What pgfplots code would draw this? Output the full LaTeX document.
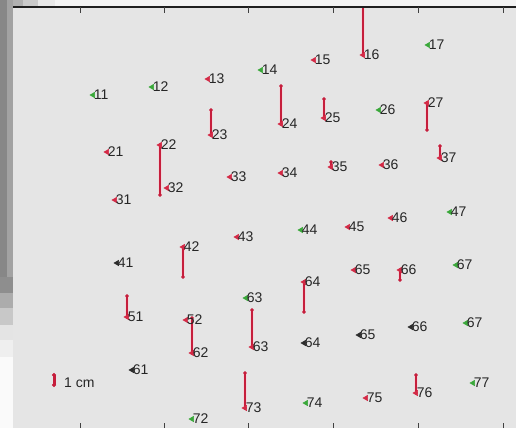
\documentclass[border=0pt]{standalone}
\usepackage{pgfplots}
\usepackage{pgfplotstable}
\pgfplotsset{compat=1.18}
\usepackage{fontspec}
\setmainfont{Liberation Sans}

\definecolor{plotbg}{HTML}{E5E5E5}
\definecolor{ptred}{HTML}{D42A46}
\definecolor{barred}{HTML}{C61E3C}
\definecolor{ptgreen}{HTML}{3AA83A}
\definecolor{ptdark}{HTML}{2C2C2C}
\definecolor{labelgray}{HTML}{262626}
\definecolor{gF3}{HTML}{F3F3F3}
\definecolor{gE8}{HTML}{E8E8E8}
\definecolor{gCA}{HTML}{CACACA}
\definecolor{gB0}{HTML}{B0B0B0}
\definecolor{gFA}{HTML}{FAFAFA}
\definecolor{gEF}{HTML}{EFEFEF}
\definecolor{gE4}{HTML}{E4E4E4}
\definecolor{gC8}{HTML}{C8C8C8}
\definecolor{gAC}{HTML}{ACACAC}
\definecolor{g8E}{HTML}{8E8E8E}
\definecolor{g87}{HTML}{878787}
\definecolor{gA2}{HTML}{A2A2A2}

% marker positions (plot units, y grows downward) and point names
\pgfplotstableread{
x   y   label
208 79  13
314 60  15
363 55  16
107 152 21
160 145 22
211 135 23
281 124 24
324 118 25
427 103 27
115 200 31
167 188 32
230 177 33
281 173 34
331 167 35
382 165 36
440 158 37
183 247 42
237 237 43
348 227 45
391 218 46
127 317 51
186 320 52
304 282 64
354 270 65
400 270 66
192 353 62
252 347 63
245 408 73
366 398 75
416 393 76
}\redpts

\pgfplotstableread{
x   y   label
93  95  11
152 87  12
261 70  14
428 45  17
379 110 26
301 230 44
450 212 47
246 298 63
456 265 67
466 323 67
192 419 72
306 403 74
473 383 77
}\greenpts

\pgfplotstableread{
x   y   label
117 263 41
132 370 61
304 343 64
359 335 65
411 327 66
}\darkpts

% displacement segments: ep = extent downward, em = extent upward
\pgfplotstableread{
x   y   ep em
363 55  0  60
211 135 0  25
160 145 50 0
281 124 0  38
324 118 0  19
427 103 27 0
440 158 0  12
331 167 0  5
183 247 30 0
127 317 0  21
192 353 0  35
252 347 0  37
245 408 0  35
304 282 30 0
400 270 10 0
416 393 0  18
}\shifts

% scale bar (1 cm)
\pgfplotstableread{
x  y   ep em
54 385 0  10
}\scalebar

\begin{document}
\begin{tikzpicture}[x=1bp,y=-1bp]
\path[use as bounding box] (0,0) rectangle (516,428);
\fill[plotbg] (13,7) rectangle (516,428);

\begin{axis}[
  at={(0,0)}, anchor=north west,
  scale only axis, width=516bp, height=428bp,
  xmin=0, xmax=516, ymin=0, ymax=428, y dir=reverse,
  axis lines=none,
  every node near coord/.append style={anchor=west, inner sep=0pt, xshift=0.6bp,
    font=\fontsize{14bp}{16bp}\selectfont, text=labelgray},
  nodes near coords align=horizontal,
]
% pink halo under the segments
\addplot[draw=none, mark=none, forget plot,
  error bars/.cd, y dir=both, y explicit,
  error bar style={line width=3.4bp, color=ptred!22, opacity=0.6},
  error mark=none]
  table[x=x, y=y, y error plus=ep, y error minus=em] {\shifts};
\addplot[draw=none, mark=none, forget plot,
  error bars/.cd, y dir=both, y explicit,
  error bar style={line width=1.2bp, color=barred},
  error mark=*, error mark options={mark size=1.6bp, color=barred, fill=barred}]
  table[x=x, y=y, y error plus=ep, y error minus=em] {\shifts};
\addplot[draw=none, mark=none, forget plot,
  error bars/.cd, y dir=both, y explicit,
  error bar style={line width=3bp, color=barred},
  error mark=*, error mark options={mark size=1.9bp, color=barred, fill=barred}]
  table[x=x, y=y, y error plus=ep, y error minus=em] {\scalebar};

\addplot[only marks, mark=triangle*, mark size=3.1bp,
  mark options={rotate=90, draw=ptred, fill=ptred},
  point meta=explicit symbolic, nodes near coords={\pgfplotspointmeta}]
  table[x=x, y=y, meta=label] {\redpts};
\addplot[only marks, mark=triangle*, mark size=3.1bp,
  mark options={rotate=90, draw=ptgreen, fill=ptgreen},
  point meta=explicit symbolic, nodes near coords={\pgfplotspointmeta}]
  table[x=x, y=y, meta=label] {\greenpts};
\addplot[only marks, mark=triangle*, mark size=3.1bp,
  mark options={rotate=90, draw=ptdark, fill=ptdark},
  point meta=explicit symbolic, nodes near coords={\pgfplotspointmeta}]
  table[x=x, y=y, meta=label] {\darkpts};
\end{axis}

% scale-bar caption
\node[anchor=west, inner sep=0pt, font=\fontsize{14bp}{16bp}\selectfont, text=labelgray]
  at (64,383) {1 cm};

% strip above the frame
\fill[gF3] (0,0) rectangle (516,6);
\fill[gE8] (38,0) rectangle (55,6);
\fill[gCA] (23,0) rectangle (38,6);
\fill[gB0] (13,0) rectangle (23,6);

% window edge on the left
\fill[gFA] (0,0) rectangle (13,428);
\fill[gEF] (0,0) rectangle (13,357);
\fill[gE4] (0,0) rectangle (13,340);
\fill[gC8] (0,0) rectangle (13,325);
\fill[gAC] (0,0) rectangle (13,308);
\fill[g8E] (0,0) rectangle (13,293);
\fill[g87] (0,0) rectangle (7,277);
\fill[gA2] (7,0) rectangle (13,277);

% frame top and ticks
\draw[line width=1.6bp, color=black!88] (13,7) -- (516,7);
\foreach \t in {80,164,248,333,418,503}{
  \draw[line width=0.9bp, color=black!75] (\t,7) -- (\t,12.5);
  \draw[line width=0.9bp, color=black!75] (\t,428) -- (\t,423);
}
\end{tikzpicture}
\end{document}
